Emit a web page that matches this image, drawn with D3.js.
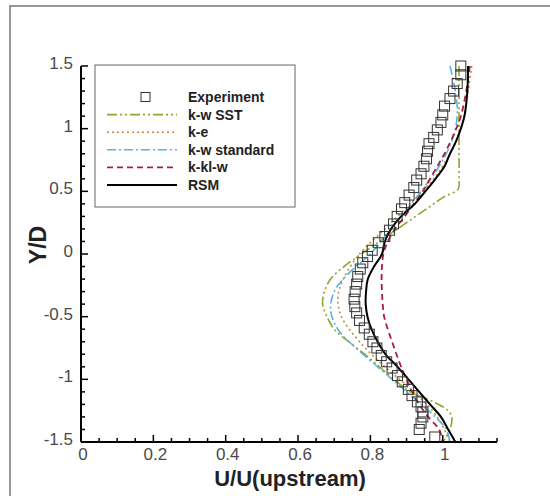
<!DOCTYPE html>
<html><head><meta charset="utf-8">
<script src="https://cdn.jsdelivr.net/npm/d3@7"></script>
<style>body{margin:0;background:#fff}svg{display:block}text{font-family:"Liberation Sans",Arial,sans-serif}</style>
</head><body><svg id="c" width="550" height="496"></svg>
<script>
// Experiment: [U/U, Y/D]
const expU = [1.05,1.05,1.04,1.03,1.02,1.005,1.0,0.995,0.985,0.975,0.962,0.958,0.955,0.948,0.94,0.928,0.92,0.907,0.895,0.886,0.874,0.864,0.853,0.84,0.822,0.805,0.792,0.779,0.772,0.765,0.762,0.758,0.755,0.757,0.762,0.77,0.783,0.797,0.807,0.818,0.83,0.845,0.86,0.875,0.888,0.905,0.915,0.93,0.94,0.945,0.945,0.94,0.935,0.978];
const expY = [1.5,1.43,1.36,1.30,1.24,1.18,1.11,1.05,0.99,0.93,0.88,0.82,0.76,0.70,0.64,0.59,0.53,0.47,0.41,0.36,0.30,0.24,0.19,0.14,0.09,0.03,-0.02,-0.07,-0.12,-0.18,-0.24,-0.30,-0.36,-0.42,-0.47,-0.53,-0.59,-0.64,-0.70,-0.75,-0.81,-0.86,-0.91,-0.97,-1.02,-1.08,-1.13,-1.18,-1.22,-1.26,-1.30,-1.35,-1.40,-1.46];

const sstY = [1.5,1.2,1.0,0.8,0.6,0.52,0.45,0.38,0.3,0.2,0.1,0.0,-0.1,-0.2,-0.3,-0.4,-0.5,-0.6,-0.7,-0.8,-0.9,-1.0,-1.1,-1.18,-1.25,-1.3,-1.4,-1.5];
const sstU = [1.045,1.045,1.045,1.045,1.045,1.043,1.0,0.965,0.925,0.875,0.825,0.775,0.727,0.69,0.673,0.668,0.68,0.70,0.74,0.785,0.825,0.865,0.91,0.975,1.015,1.025,1.02,1.0];

const keY = [1.5,1.2,1.0,0.8,0.6,0.4,0.2,0.0,-0.2,-0.35,-0.5,-0.7,-0.9,-1.1,-1.3,-1.5];
const keU = [1.08,1.065,1.05,1.02,0.975,0.91,0.84,0.77,0.725,0.71,0.72,0.77,0.84,0.92,0.985,1.02];

const kwY = [1.5,1.3,1.1,0.9,0.7,0.5,0.3,0.1,0.0,-0.1,-0.2,-0.3,-0.45,-0.6,-0.75,-0.9,-1.0,-1.1,-1.2,-1.3,-1.4,-1.5];
const kwU = [1.02,1.035,1.04,1.025,0.99,0.94,0.885,0.83,0.8,0.76,0.725,0.70,0.69,0.71,0.76,0.82,0.86,0.90,0.94,0.98,1.01,1.02];

const kklY = [1.5,1.3,1.1,0.95,0.8,0.7,0.6,0.5,0.4,0.3,0.2,0.1,0.0,-0.1,-0.2,-0.3,-0.4,-0.5,-0.6,-0.7,-0.8,-0.9,-1.0,-1.1,-1.2,-1.3,-1.4,-1.5];
const kklU = [1.075,1.065,1.05,1.03,1.005,0.985,0.965,0.945,0.92,0.895,0.868,0.848,0.836,0.832,0.831,0.832,0.834,0.838,0.848,0.86,0.872,0.885,0.90,0.915,0.935,0.96,0.99,1.0];

const rsmY = [1.5,1.3,1.1,1.0,0.9,0.8,0.7,0.6,0.5,0.4,0.3,0.2,0.1,0.0,-0.1,-0.2,-0.3,-0.4,-0.5,-0.6,-0.7,-0.8,-0.9,-1.0,-1.1,-1.2,-1.3,-1.4,-1.5];
const rsmU = [1.07,1.068,1.06,1.05,1.037,1.02,1.005,0.98,0.952,0.923,0.885,0.857,0.84,0.832,0.81,0.793,0.788,0.787,0.792,0.803,0.82,0.842,0.875,0.905,0.935,0.965,0.995,1.015,1.035];

const seriesNames = ["k-w SST","k-e","k-w standard","k-kl-w","RSM"];
const xTicks = [0,0.2,0.4,0.6,0.8,1];
const yTicks = [-1.5,-1,-0.5,0,0.5,1,1.5];
const xTickLabels = ["0","0.2","0.4","0.6","0.8","1"];
const yTickLabels = ["-1.5","-1","-0.5","0","0.5","1","1.5"];

const svg = d3.select("#c");
const x = d3.scaleLinear().domain([0,1.15]).range([81,497]);
const y = d3.scaleLinear().domain([-1.5,1.5]).range([442,66]);

// outer frame
svg.append("path").attr("d","M10,496V6H550").attr("fill","none").attr("stroke","#777").attr("stroke-width",1.5);

const styles = [
  {color:"#94a32c", dash:"10,3,2,3,2,3", w:1.6},
  {color:"#c98a3c", dash:"2,3", w:1.6},
  {color:"#5ab4d6", dash:"9,3,2,3", w:1.6},
  {color:"#a8203c", dash:"6,4", w:1.8},
  {color:"#000", dash:null, w:2}
];
const data = [
  sstU.map((u,i)=>[u,sstY[i]]),
  keU.map((u,i)=>[u,keY[i]]),
  kwU.map((u,i)=>[u,kwY[i]]),
  kklU.map((u,i)=>[u,kklY[i]]),
  rsmU.map((u,i)=>[u,rsmY[i]])
];
const line = d3.line().x(d=>x(d[0])).y(d=>y(d[1])).curve(d3.curveCatmullRom.alpha(0.5));
data.forEach((d,i)=>{
  svg.append("path").attr("d",line(d)).attr("fill","none")
    .attr("stroke",styles[i].color).attr("stroke-width",styles[i].w)
    .attr("stroke-dasharray",styles[i].dash);
});

// experiment squares
const sq = 10;
svg.append("g").selectAll("rect").data(expU.map((u,i)=>[u,expY[i]])).join("rect")
  .attr("x",d=>x(d[0])-sq/2).attr("y",d=>y(d[1])-sq/2).attr("width",sq).attr("height",sq)
  .attr("fill","none").attr("stroke","#333").attr("stroke-width",1);

// axes
const gx = svg.append("g").attr("transform","translate(0,442)");
gx.append("line").attr("x1",x(0)).attr("x2",x(1.15)).attr("stroke","#000").attr("stroke-width",2);
gx.selectAll("line.t").data(d3.range(0,24).map(i=>i*0.05)).join("line").attr("class","t")
  .attr("x1",d=>x(d)).attr("x2",d=>x(d)).attr("y1",0)
  .attr("y2",(d,i)=>i%4===0?-7:-4).attr("stroke","#000").attr("stroke-width",1.5);
gx.selectAll("text").data(xTicks).join("text").attr("x",d=>x(d)+2).attr("y",18)
  .attr("text-anchor","middle").attr("font-size",17).attr("fill","#4a4a4a")
  .text((d,i)=>xTickLabels[i]);

const gy = svg.append("g").attr("transform","translate(81,0)");
gy.append("line").attr("y1",y(-1.5)).attr("y2",y(1.5)).attr("stroke","#000").attr("stroke-width",2);
gy.selectAll("line.t").data(d3.range(0,31).map(i=>-1.5+i*0.1)).join("line").attr("class","t")
  .attr("y1",d=>y(d)).attr("y2",d=>y(d)).attr("x1",0)
  .attr("x2",(d,i)=>i%5===0?7:4).attr("stroke","#000").attr("stroke-width",1.5);
gy.selectAll("text").data(yTicks).join("text").attr("x",-8).attr("y",d=>y(d)+3)
  .attr("text-anchor","end").attr("font-size",17).attr("fill","#4a4a4a")
  .text((d,i)=>yTickLabels[i]);

// axis titles
svg.append("text").attr("x",290).attr("y",486).attr("text-anchor","middle")
  .attr("font-size",22).attr("font-weight","bold").attr("fill","#222").text("U/U(upstream)");
svg.append("text").attr("transform","translate(46,245) rotate(-90)").attr("text-anchor","middle")
  .attr("font-size",23).attr("font-weight","bold").attr("fill","#222").text("Y/D");

// legend
const lg = svg.append("g");
lg.append("rect").attr("x",95).attr("y",65).attr("width",200).attr("height",142)
  .attr("fill","#fff").attr("stroke","#666").attr("stroke-width",1);
const legNames = ["Experiment"].concat(seriesNames);
legNames.forEach((n,i)=>{
  const ly = 97 + i*17.6;
  if(i===0){
    lg.append("rect").attr("x",141).attr("y",ly-4.5).attr("width",9).attr("height",9)
      .attr("fill","none").attr("stroke","#333");
  } else {
    const s = styles[i-1];
    lg.append("line").attr("x1",107).attr("x2",177).attr("y1",ly).attr("y2",ly)
      .attr("stroke",s.color).attr("stroke-width",s.w).attr("stroke-dasharray",s.dash);
  }
  lg.append("text").attr("x",188).attr("y",ly+5).attr("font-size",14).attr("font-weight","bold")
    .attr("fill","#222").text(n);
});
</script></body></html>
